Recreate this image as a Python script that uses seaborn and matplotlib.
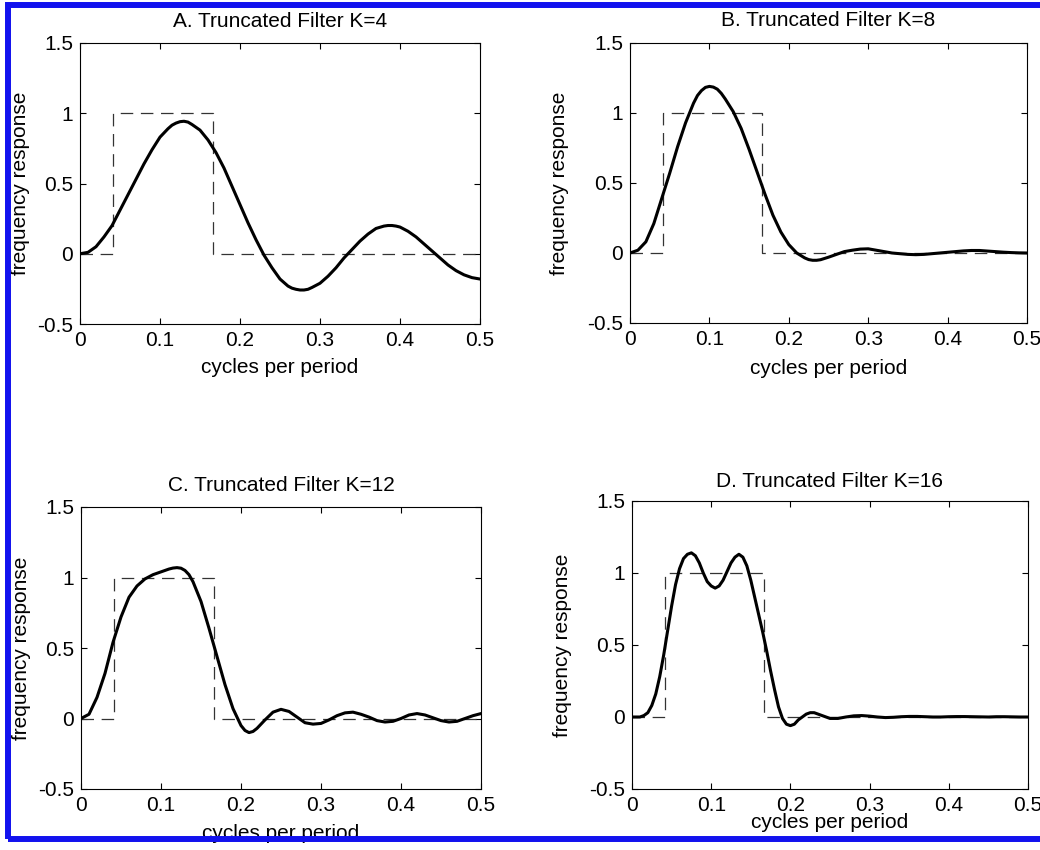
import matplotlib
matplotlib.use("Agg")
import matplotlib.pyplot as plt
from matplotlib.patches import Rectangle
import pandas as pd
import seaborn as sns

# ---------------- data ----------------
# Panel A: K=4
x_a = [0.00, 0.01, 0.02, 0.03, 0.04, 0.05, 0.06, 0.07, 0.08, 0.09,
       0.10, 0.11, 0.115, 0.12, 0.125, 0.13, 0.135, 0.14, 0.145, 0.15,
       0.16, 0.17, 0.18, 0.19, 0.20, 0.21, 0.22, 0.23, 0.24, 0.25,
       0.26, 0.265, 0.27, 0.275, 0.28, 0.285, 0.29, 0.30, 0.31, 0.32,
       0.33, 0.34, 0.35, 0.36, 0.37, 0.38, 0.385, 0.39, 0.395, 0.40,
       0.41, 0.42, 0.43, 0.44, 0.45, 0.46, 0.47, 0.48, 0.49, 0.50]
y_a = [0.00, 0.01, 0.05, 0.12, 0.20, 0.31, 0.42, 0.53, 0.64, 0.74,
       0.83, 0.89, 0.915, 0.93, 0.94, 0.943, 0.937, 0.92, 0.90, 0.88,
       0.81, 0.72, 0.61, 0.48, 0.35, 0.22, 0.10, -0.01, -0.10, -0.18,
       -0.23, -0.245, -0.253, -0.258, -0.258, -0.253, -0.24, -0.21, -0.16, -0.10,
       -0.03, 0.03, 0.09, 0.14, 0.18, 0.197, 0.201, 0.201, 0.197, 0.19,
       0.16, 0.12, 0.07, 0.02, -0.03, -0.08, -0.12, -0.15, -0.17, -0.18]

# Panel B: K=8
x_b = [0.00, 0.01, 0.02, 0.03, 0.04, 0.05, 0.06, 0.07, 0.08, 0.085,
       0.09, 0.095, 0.10, 0.105, 0.11, 0.115, 0.12, 0.13, 0.14, 0.15,
       0.16, 0.17, 0.18, 0.19, 0.20, 0.21, 0.22, 0.225, 0.23, 0.235,
       0.24, 0.25, 0.26, 0.27, 0.28, 0.29, 0.30, 0.31, 0.32, 0.33,
       0.34, 0.35, 0.36, 0.37, 0.38, 0.39, 0.40, 0.41, 0.42, 0.43,
       0.44, 0.45, 0.46, 0.47, 0.48, 0.49, 0.50]
y_b = [0.00, 0.02, 0.08, 0.21, 0.39, 0.57, 0.76, 0.93, 1.07, 1.125,
       1.16, 1.183, 1.19, 1.185, 1.17, 1.14, 1.10, 1.01, 0.89, 0.74,
       0.58, 0.42, 0.27, 0.15, 0.06, 0.00, -0.035, -0.047, -0.052, -0.052,
       -0.048, -0.03, -0.01, 0.01, 0.02, 0.028, 0.03, 0.02, 0.01, 0.00,
       -0.005, -0.01, -0.012, -0.01, -0.005, 0.00, 0.005, 0.01, 0.015, 0.018,
       0.018, 0.014, 0.01, 0.006, 0.003, 0.001, 0.00]

# Panel C: K=12
x_c = [0.00, 0.01, 0.02, 0.03, 0.04, 0.05, 0.06, 0.07, 0.08, 0.09,
       0.10, 0.11, 0.115, 0.12, 0.125, 0.13, 0.135, 0.14, 0.15, 0.16,
       0.17, 0.18, 0.19, 0.20, 0.205, 0.21, 0.215, 0.22, 0.23, 0.24,
       0.25, 0.26, 0.27, 0.28, 0.29, 0.30, 0.31, 0.32, 0.33, 0.34,
       0.35, 0.36, 0.37, 0.38, 0.39, 0.40, 0.41, 0.42, 0.43, 0.44,
       0.45, 0.46, 0.47, 0.48, 0.49, 0.50]
y_c = [0.00, 0.03, 0.15, 0.32, 0.54, 0.72, 0.86, 0.94, 0.99, 1.02,
       1.04, 1.06, 1.067, 1.07, 1.066, 1.05, 1.02, 0.97, 0.83, 0.64,
       0.44, 0.24, 0.07, -0.05, -0.085, -0.10, -0.092, -0.07, -0.01, 0.045,
       0.065, 0.05, 0.01, -0.03, -0.04, -0.035, -0.01, 0.02, 0.04, 0.045,
       0.03, 0.01, -0.015, -0.025, -0.02, 0.00, 0.025, 0.035, 0.025, 0.005,
       -0.015, -0.025, -0.02, 0.00, 0.02, 0.035]

# Panel D: K=16 (finer spacing in the pass band)
x_d = [0.000, 0.005, 0.010, 0.015, 0.020, 0.025, 0.030, 0.035, 0.040, 0.045,
       0.050, 0.055, 0.060, 0.065, 0.070, 0.075, 0.080, 0.085, 0.090, 0.095,
       0.100, 0.105, 0.110, 0.115, 0.120, 0.125, 0.130, 0.135, 0.140, 0.145,
       0.150, 0.155, 0.160, 0.165, 0.170, 0.175, 0.180, 0.185, 0.190, 0.195,
       0.200, 0.205, 0.210, 0.215, 0.220, 0.225, 0.230, 0.235, 0.240, 0.245,
       0.250, 0.26, 0.27, 0.28, 0.29, 0.30, 0.31, 0.32, 0.33, 0.34,
       0.35, 0.36, 0.37, 0.38, 0.39, 0.40, 0.41, 0.42, 0.43, 0.44,
       0.45, 0.46, 0.47, 0.48, 0.49, 0.50]
y_d = [0.00, 0.00, 0.00, 0.01, 0.03, 0.08, 0.16, 0.28, 0.43, 0.60,
       0.77, 0.92, 1.03, 1.10, 1.13, 1.14, 1.12, 1.07, 1.00, 0.94,
       0.91, 0.895, 0.91, 0.95, 1.01, 1.07, 1.11, 1.13, 1.11, 1.05,
       0.95, 0.83, 0.71, 0.59, 0.46, 0.32, 0.19, 0.07, -0.01, -0.05,
       -0.06, -0.05, -0.02, 0.00, 0.02, 0.03, 0.03, 0.02, 0.01, 0.00,
       -0.01, -0.01, 0.00, 0.008, 0.01, 0.006, 0.00, -0.004, -0.002, 0.002,
       0.004, 0.004, 0.002, 0.00, 0.00, 0.002, 0.003, 0.003, 0.002, 0.001,
       0.00, 0.002, 0.002, 0.001, 0.00, 0.00]

# ideal band-pass filter (dashed)
step_x = [0.0, 0.0417, 0.0417, 0.1667, 0.1667, 0.5]
step_y = [0, 0, 1, 1, 0, 0]

titles = ["A. Truncated Filter K=4", "B. Truncated Filter K=8",
          "C. Truncated Filter K=12", "D. Truncated Filter K=16"]
x_ticks = [0, 0.1, 0.2, 0.3, 0.4, 0.5]
x_tick_labels = ["0", "0.1", "0.2", "0.3", "0.4", "0.5"]
y_ticks = [-0.5, 0, 0.5, 1, 1.5]
y_tick_labels = ["-0.5", "0", "0.5", "1", "1.5"]
x_label = "cycles per period"
y_label = "frequency response"

# ---------------- style ----------------
FS = 15
sns.set_style("ticks")
plt.rcParams.update({
    "font.family": ["Liberation Sans", "DejaVu Sans"],
    "font.size": FS,
    "axes.linewidth": 0.8,
    "axes.edgecolor": "black",
    "axes.labelcolor": "black",
    "text.color": "black",
    "xtick.color": "black",
    "ytick.color": "black",
    "xtick.direction": "in",
    "ytick.direction": "in",
    "xtick.top": True,
    "ytick.right": True,
    "xtick.major.size": 4,
    "ytick.major.size": 4,
    "xtick.major.width": 0.8,
    "ytick.major.width": 0.8,
    "xtick.labelsize": FS,
    "ytick.labelsize": FS,
    "lines.scale_dashes": False,
})

fig = plt.figure(figsize=(10.4, 8.5), dpi=100)
W, H = 1040.0, 850.0

def frac(left, top, right, bottom):
    return [left / W, 1 - bottom / H, (right - left) / W, (bottom - top) / H]

panels = [
    dict(x=x_a, y=y_a, rect=frac(80, 43, 480, 324), ylab=(-0.124, 0.5), xlab=(0.5, -0.12), pad=11.5),
    dict(x=x_b, y=y_b, rect=frac(630, 43, 1027, 323), ylab=(-0.153, 0.5), xlab=(0.5, -0.13), pad=12.0),
    dict(x=x_c, y=y_c, rect=frac(81, 507, 481, 789), ylab=(-0.124, 0.5), xlab=(0.5, -0.125), pad=11.5),
    dict(x=x_d, y=y_d, rect=frac(632, 501, 1028, 789), ylab=(-0.152, 0.5), xlab=(0.5, -0.085), pad=10.3),
]

step_df = pd.DataFrame({"f": step_x, "h": step_y})

for p, title in zip(panels, titles):
    ax = fig.add_axes(p["rect"])
    sns.lineplot(data=step_df, x="f", y="h", estimator=None, sort=False, ax=ax,
                 color="#333333", linewidth=0.9)
    ax.lines[-1].set_dashes((9, 5.5))
    df = pd.DataFrame({"f": p["x"], "h": p["y"]})
    sns.lineplot(data=df, x="f", y="h", estimator=None, sort=False, ax=ax,
                 color="black", linewidth=2.2)
    ax.lines[-1].set_solid_joinstyle("round")
    ax.set_xlim(0, 0.5)
    ax.set_ylim(-0.5, 1.5)
    ax.set_xticks(x_ticks)
    ax.set_xticklabels(x_tick_labels)
    ax.set_yticks(y_ticks)
    ax.set_yticklabels(y_tick_labels)
    ax.tick_params(axis="both", which="major", pad=5)
    ax.set_xlabel(x_label, fontsize=FS)
    ax.set_ylabel(y_label, fontsize=FS)
    ax.yaxis.set_label_coords(*p["ylab"])
    ax.xaxis.set_label_coords(*p["xlab"])
    ax.set_title(title, fontsize=FS, pad=p["pad"])
    for s in ax.spines.values():
        s.set_visible(True)
        s.set_color("black")

# blue frame around the figure
fig.patches.append(Rectangle((8 / W, 1 - 839 / H), 1.2, (839 - 5) / H,
                             transform=fig.transFigure, fill=False,
                             edgecolor="#1212ee", linewidth=4.3, clip_on=False))

fig.savefig("out.png", dpi=100)
